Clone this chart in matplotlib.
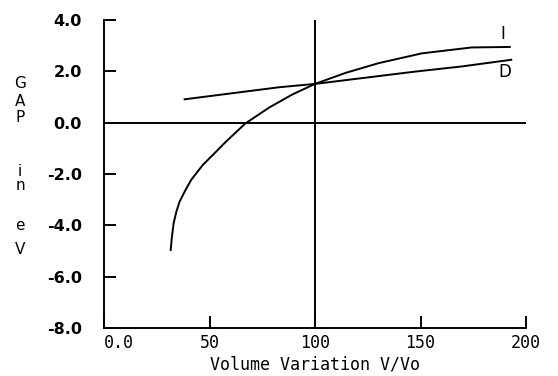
import matplotlib.pyplot as plt

# curve I (indirect gap) and D (direct gap) vs volume variation
i_x = [31.6, 32.2, 33.0, 34.3, 35.8, 38.2, 41.3, 46.8, 52.4, 57.8, 67.0, 78.3, 89.3, 100,
       114.5, 130.2, 150.6, 174.2, 192.3]
i_y = [-4.96, -4.44, -3.92, -3.47, -3.08, -2.69, -2.23, -1.65, -1.19, -0.74, -0.03, 0.59, 1.10, 1.51,
       1.94, 2.32, 2.70, 2.93, 2.95]
d_x = [38.2, 83, 100, 147.5, 169.5, 193]
d_y = [0.91, 1.38, 1.51, 1.99, 2.19, 2.45]

x_ticks = [0, 50, 100, 150, 200]
x_labels = ["0.0", "50", "100", "150", "200"]
y_ticks = [-8, -6, -4, -2, 0, 2, 4]
y_labels = ["-8.0", "-6.0", "-4.0", "-2.0", "0.0", "2.0", "4.0"]
ylabel_letters = ["G", "A", "P", "i", "n", "e", "V"]
ylabel_pos = [84, 101, 118, 171, 185, 226, 250]  # pixel rows

fig = plt.figure(figsize=(5.58, 3.76), dpi=100)
ax = fig.add_axes([104 / 558, 1 - 328 / 376, 422 / 558, 308 / 376])

lw = 1.4
ax.plot(i_x, i_y, color="black", lw=lw)
ax.plot(d_x, d_y, color="black", lw=lw)
ax.axhline(0, color="black", lw=lw)
ax.axvline(100, color="black", lw=lw)

ax.set_xlim(0, 200)
ax.set_ylim(-8, 4)
for s in ["top", "right"]:
    ax.spines[s].set_visible(False)
for s in ["left", "bottom"]:
    ax.spines[s].set_linewidth(lw)

ax.set_xticks(x_ticks)
ax.set_xticklabels(x_labels, family="DejaVu Sans Mono", fontsize=12)
ax.set_yticks(y_ticks)
ax.set_yticklabels(y_labels, family="DejaVu Sans", fontweight="bold", fontsize=11.5)
ax.tick_params(axis="both", direction="in", length=8.6, width=lw)
ax.tick_params(axis="y", pad=16)
ax.tick_params(axis="x", pad=4)
ax.get_xticklabels()[0].set_horizontalalignment("left")

ax.set_xlabel("Volume Variation V/Vo", family="DejaVu Sans Mono", fontsize=12, labelpad=3)

for ch, py in zip(ylabel_letters, ylabel_pos):
    fig.text(20 / 558, 1 - py / 376, ch, ha="center", va="center", fontsize=11)

ax.text(189.2, 3.44, "I", ha="center", va="center", fontsize=12)
ax.text(190, 1.96, "D", ha="center", va="center", fontsize=12)

fig.savefig("out.png", dpi=100)
